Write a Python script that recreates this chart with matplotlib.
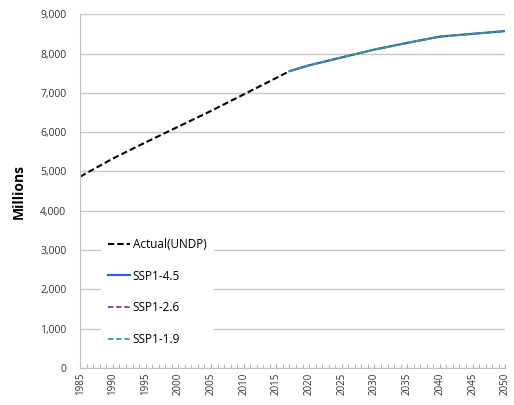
import matplotlib
matplotlib.use("Agg")
import matplotlib.pyplot as plt
from matplotlib.ticker import FuncFormatter, MultipleLocator

actual_years = [1985, 1990, 1995, 2000, 2005, 2010, 2015, 2017]
actual_vals = [4870, 5330, 5740, 6140, 6540, 6960, 7380, 7550]

ssp_years = [2017, 2020, 2025, 2030, 2035, 2040, 2045, 2050]
ssp45 = [7550, 7700, 7900, 8100, 8270, 8430, 8500, 8570]
ssp26 = [7550, 7700, 7900, 8100, 8270, 8430, 8500, 8570]
ssp19 = [7550, 7700, 7900, 8100, 8270, 8430, 8500, 8570]

xticks = list(range(1985, 2051, 5))
yticks = list(range(0, 9001, 1000))

plt.rcParams['font.family'] = ['Open Sans', 'DejaVu Sans']

fig = plt.figure(figsize=(5.14, 4.05), dpi=100)
ax = fig.add_axes([0.156, 0.091, 0.827, 0.874])

ax.plot(actual_years, actual_vals, color='black', ls=(0, (3, 1.5)), lw=1.5, label='Actual(UNDP)')
ax.plot(ssp_years, ssp45, color='#2860e0', ls='-', lw=1.6, label='SSP1-4.5')
ax.plot(ssp_years, ssp26, color='#7b3fb5', ls=(0, (3, 1.5)), lw=1.3, label='SSP1-2.6')
ax.plot(ssp_years, ssp19, color='#3aa66a', ls=(0, (3, 1.5)), lw=1.3, label='SSP1-1.9')

ax.set_xlim(1985, 2050)
ax.set_ylim(0, 9000)
ax.set_yticks(yticks)
ax.yaxis.set_major_formatter(FuncFormatter(lambda v, p: f"{int(v):,}"))
ax.set_xticks(xticks)
ax.set_xticklabels([str(x) for x in xticks], rotation=90, fontsize=7, color='#333333')
ax.xaxis.set_minor_locator(MultipleLocator(1))
ax.tick_params(axis='x', which='both', length=3, color='#aaaaaa', direction='in', pad=3)
ax.tick_params(axis='y', length=0, labelsize=7.5, labelcolor='#333333', pad=10)
ax.grid(axis='y', color='#c8c8c8', lw=1)
ax.set_axisbelow(True)
for s in ['top', 'right']:
    ax.spines[s].set_visible(False)
ax.spines['left'].set_color('#c0c0c0')
ax.spines['bottom'].set_color('#c0c0c0')

ax.set_ylabel('Millions', fontsize=10, fontweight='bold', labelpad=10)

leg = ax.legend(loc='lower left', bbox_to_anchor=(0.035, 0.025), frameon=True, fontsize=8.5,
                handlelength=1.9, handletextpad=0.2, labelspacing=1.6, borderpad=0.6)
leg.get_frame().set_edgecolor('none')
leg.get_frame().set_facecolor('white')
leg.get_frame().set_alpha(1)

fig.savefig('out.png', dpi=100)
